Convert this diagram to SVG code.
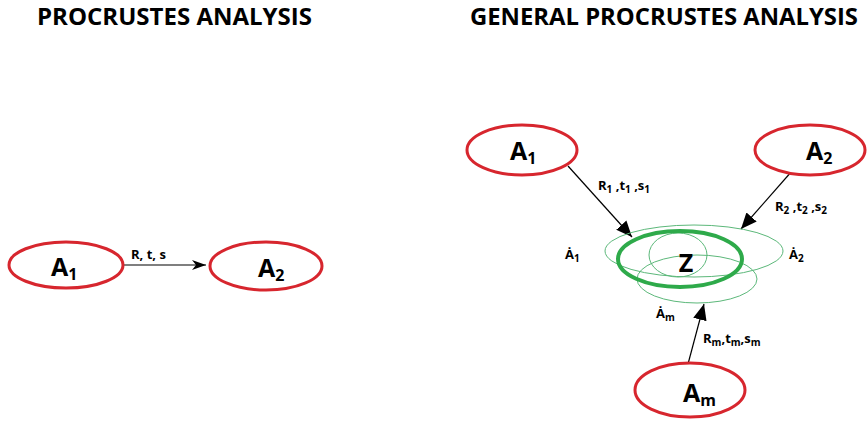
<svg xmlns="http://www.w3.org/2000/svg" width="868" height="422" viewBox="0 0 868 422">
<defs>
<style>
.title{font-family:"Open Sans","Liberation Sans",sans-serif;font-weight:bold;font-size:23px;fill:#000}
.node{fill:#fff;stroke:#d7262e;stroke-width:3}
.nl{font-family:"Open Sans","Liberation Sans",sans-serif;font-weight:bold;font-size:25px;fill:#000}
.sub{font-size:16px}
.lab{font-family:"Open Sans","Liberation Sans",sans-serif;font-weight:bold;font-size:13px;fill:#000}
.ls{font-size:10px}
.edge{stroke:#000;stroke-width:1.2;fill:none}
.thin{fill:none;stroke:#5cb87a;stroke-width:1}
.thick{fill:none;stroke:#2eaa4a;stroke-width:4}
</style>
<marker id="ah" viewBox="0 0 14 10" refX="14" refY="5" markerWidth="14" markerHeight="10" markerUnits="userSpaceOnUse" orient="auto">
<path d="M0,0 L14,5 L0,10 L4,5 z" fill="#000"/>
</marker>
<marker id="ah2" viewBox="0 0 14 12" refX="14" refY="6" markerWidth="16" markerHeight="14" markerUnits="userSpaceOnUse" orient="auto">
<path d="M0,0 L14,6 L0,12 z" fill="#000"/>
</marker>
</defs>
<rect width="868" height="422" fill="#fff"/>
<text class="title" x="37" y="25" textLength="275" lengthAdjust="spacingAndGlyphs">PROCRUSTES ANALYSIS</text>
<text class="title" x="470" y="25" textLength="388" lengthAdjust="spacingAndGlyphs">GENERAL PROCRUSTES ANALYSIS</text>

<g id="connectors">
<line class="edge" x1="123" y1="265" x2="206" y2="265" marker-end="url(#ah)" stroke-width="2"/>
<text class="lab" x="131" y="259" font-size="14">R, t, s</text>
<line class="edge" x1="568" y1="166" x2="632" y2="237" marker-end="url(#ah2)"/>
<text class="lab" x="598" y="190">R<tspan class="ls" dy="3">1</tspan><tspan dy="-3"> ,t</tspan><tspan class="ls" dy="3">1</tspan><tspan dy="-3"> ,s</tspan><tspan class="ls" dy="3">1</tspan></text>
<line class="edge" x1="792" y1="171" x2="741" y2="229" marker-end="url(#ah2)"/>
<text class="lab" x="775" y="211">R<tspan class="ls" dy="3">2</tspan><tspan dy="-3"> ,t</tspan><tspan class="ls" dy="3">2</tspan><tspan dy="-3"> ,s</tspan><tspan class="ls" dy="3">2</tspan></text>
<line class="edge" x1="688" y1="364" x2="704" y2="304" marker-end="url(#ah2)"/>
<text class="lab" x="703" y="343">R<tspan class="ls" dy="3">m</tspan><tspan dy="-3">,t</tspan><tspan class="ls" dy="3">m</tspan><tspan dy="-3">,s</tspan><tspan class="ls" dy="3">m</tspan></text>
</g>

<g id="pa-A1">
<ellipse class="node" cx="66" cy="265" rx="57" ry="23"/>
<text class="nl" x="51" y="276">A<tspan class="sub" dy="4">1</tspan></text>
</g>
<g id="pa-A2">
<ellipse class="node" cx="266" cy="266" rx="56" ry="24"/>
<text class="nl" x="258" y="277">A<tspan class="sub" dy="4">2</tspan></text>
</g>

<g id="gpa-A1">
<ellipse class="node" cx="522" cy="150" rx="55" ry="25"/>
<text class="nl" x="510" y="160">A<tspan class="sub" dy="4">1</tspan></text>
</g>
<g id="gpa-A2">
<ellipse class="node" cx="810" cy="150" rx="55" ry="25"/>
<text class="nl" x="806" y="160">A<tspan class="sub" dy="4">2</tspan></text>
</g>
<g id="gpa-Am">
<ellipse class="node" cx="690" cy="390" rx="55" ry="27"/>
<text class="nl" x="683" y="402">A<tspan class="sub" dy="4">m</tspan></text>
</g>

<g id="gpa-Z">
<ellipse class="thin" cx="694" cy="251" rx="89" ry="26"/>
<ellipse class="thin" cx="678" cy="255" rx="29" ry="22"/>
<ellipse class="thin" cx="697" cy="279" rx="60" ry="24"/>
<ellipse class="thick" cx="680" cy="259" rx="62" ry="28"/>
<text class="nl" x="686" y="272" text-anchor="middle" font-size="24">Z</text>
<text class="lab" x="565" y="259" font-size="14">Ȧ<tspan class="ls" dy="3">1</tspan></text>
<text class="lab" x="789" y="259" font-size="14">Ȧ<tspan class="ls" dy="3">2</tspan></text>
<text class="lab" x="656" y="318" font-size="14">Ȧ<tspan class="ls" dy="3">m</tspan></text>
</g>
</svg>
